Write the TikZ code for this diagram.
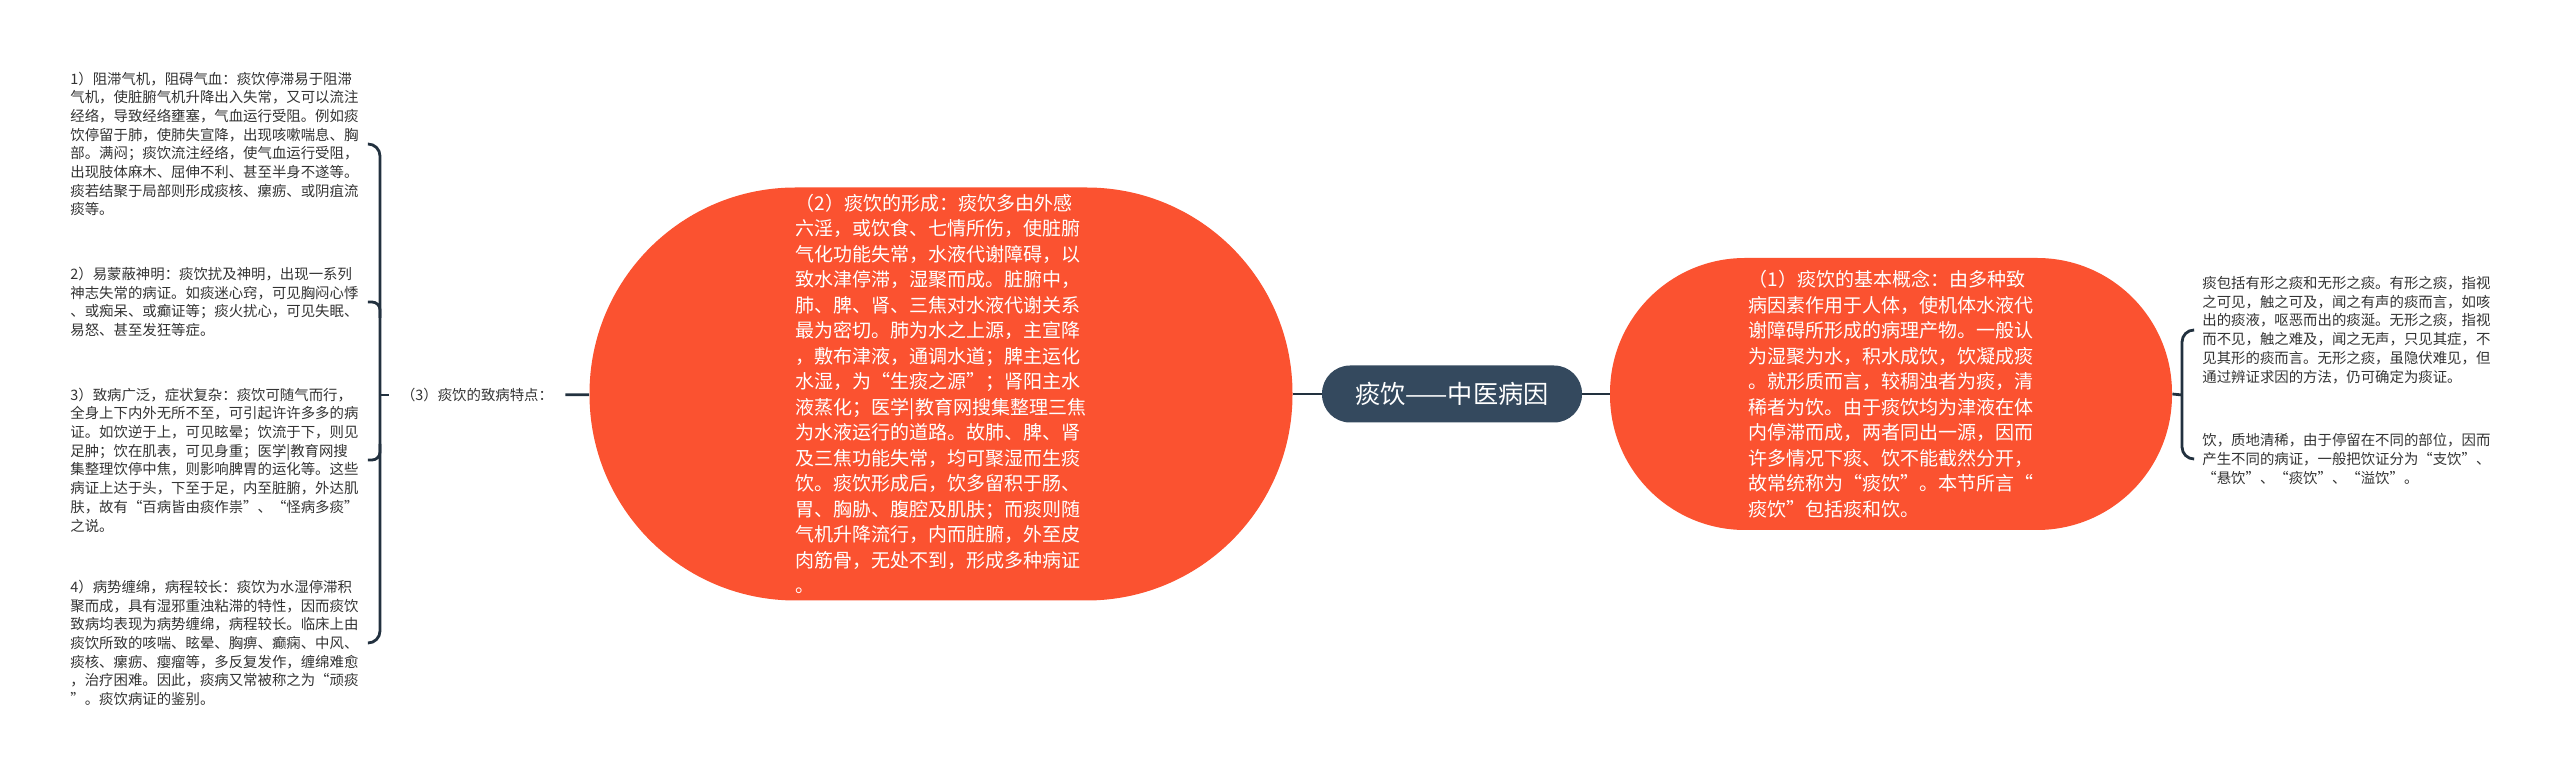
\documentclass[tikz,border=0pt]{standalone}
\usepackage{fontspec}
\setmainfont{Noto Sans CJK SC}
\usetikzlibrary{positioning}
\definecolor{topicred}{HTML}{FB5230}
\definecolor{rootblue}{HTML}{34495E}
\definecolor{linkblue}{HTML}{22313F}
\definecolor{notegray}{HTML}{333333}

\begin{document}
\begin{tikzpicture}[x=0.5pt,y=-0.5pt,
 link/.style={draw=linkblue,line width=1.4pt},
 root node/.style={fill=rootblue,text=white,rounded corners=14pt,minimum width=130pt,
   minimum height=28.5pt,inner sep=0pt,font=\fontsize{12.6}{15}\selectfont},
 topic node/.style={fill=topicred,text=white,align=left,inner sep=0pt,
   font=\fontsize{9.5}{12.75}\selectfont},
 note node/.style={text=notegray,align=left,inner sep=0pt,anchor=west,
   font=\fontsize{7.2}{9.35}\selectfont}]
  \useasboundingbox (0,0) rectangle (2560,779);

  % centre and the two big topics
  \node[root node] (C) at (1452,394) {痰饮——中医病因};
  \node[topic node,minimum width=351.5pt,minimum height=206.5pt,rounded corners=103pt]
   (L) at (941,394) {（2）痰饮的形成：痰饮多由外感\\六淫，或饮食、七情所伤，使脏腑\\气化功能失常，水液代谢障碍，以\\致水津停滞，湿聚而成。脏腑中，\\肺、脾、肾、三焦对水液代谢关系\\最为密切。肺为水之上源，主宣降\\，敷布津液，通调水道；脾主运化\\水湿，为“生痰之源”；肾阳主水\\液蒸化；医学|教育网搜集整理三焦\\为水液运行的道路。故肺、脾、肾\\及三焦功能失常，均可聚湿而生痰\\饮。痰饮形成后，饮多留积于肠、\\胃、胸胁、腹腔及肌肤；而痰则随\\气机升降流行，内而脏腑，外至皮\\肉筋骨，无处不到，形成多种病证\\。};
  \node[topic node,minimum width=281pt,minimum height=136pt,rounded corners=67.5pt]
   (R) at (1891,394) {（1）痰饮的基本概念：由多种致\\病因素作用于人体，使机体水液代\\谢障碍所形成的病理产物。一般认\\为湿聚为水，积水成饮，饮凝成痰\\。就形质而言，较稠浊者为痰，清\\稀者为饮。由于痰饮均为津液在体\\内停滞而成，两者同出一源，因而\\许多情况下痰、饮不能截然分开，\\故常统称为“痰饮”。本节所言“\\痰饮”包括痰和饮。};

  % left branch
  \node[note node,anchor=center,inner xsep=6pt] (lab) at (477,395) {（3）痰饮的致病特点：};
  \coordinate (ltrunk) at (380,395);
  \node[note node] (t1) at (70,144) {1）阻滞气机，阻碍气血：痰饮停滞易于阻滞\\气机，使脏腑气机升降出入失常，又可以流注\\经络，导致经络壅塞，气血运行受阻。例如痰\\饮停留于肺，使肺失宣降，出现咳嗽喘息、胸\\部。满闷；痰饮流注经络，使气血运行受阻，\\出现肢体麻木、屈伸不利、甚至半身不遂等。\\痰若结聚于局部则形成痰核、瘰疬、或阴疽流\\痰等。};
  \node[note node] (t2) at (70,302) {2）易蒙蔽神明：痰饮扰及神明，出现一系列\\神志失常的病证。如痰迷心窍，可见胸闷心悸\\、或痴呆、或癫证等；痰火扰心，可见失眠、\\易怒、甚至发狂等症。};
  \node[note node] (t3) at (70,460) {3）致病广泛，症状复杂：痰饮可随气而行，\\全身上下内外无所不至，可引起许许多多的病\\证。如饮逆于上，可见眩晕；饮流于下，则见\\足肿；饮在肌表，可见身重；医学|教育网搜\\集整理饮停中焦，则影响脾胃的运化等。这些\\病证上达于头，下至于足，内至脏腑，外达肌\\肤，故有“百病皆由痰作祟”、“怪病多痰”\\之说。};
  \node[note node] (t4) at (70,643) {4）病势缠绵，病程较长：痰饮为水湿停滞积\\聚而成，具有湿邪重浊粘滞的特性，因而痰饮\\致病均表现为病势缠绵，病程较长。临床上由\\痰饮所致的咳喘、眩晕、胸痹、癫痫、中风、\\痰核、瘰疬、瘿瘤等，多反复发作，缠绵难愈\\，治疗困难。因此，痰病又常被称之为“顽痰\\”。痰饮病证的鉴别。};

  % right branch
  \coordinate (rtrunk) at (2182,395);
  \node[note node] (r1) at (2202,330) {痰包括有形之痰和无形之痰。有形之痰，指视\\之可见，触之可及，闻之有声的痰而言，如咳\\出的痰液，呕恶而出的痰涎。无形之痰，指视\\而不见，触之难及，闻之无声，只见其症，不\\见其形的痰而言。无形之痰，虽隐伏难见，但\\通过辨证求因的方法，仍可确定为痰证。};
  \node[note node] (r2) at (2202,459) {饮，质地清稀，由于停留在不同的部位，因而\\产生不同的病证，一般把饮证分为“支饮”、\\“悬饮”、“痰饮”、“溢饮”。};

  % connectors
  \foreach \s/\t in {L/C, C/R, lab/L} {
    \path[link] (\s) -- (\t);}
  \path[link] (lab.west) -- (ltrunk);
  \path[link] (R.east) -- (rtrunk);
  \path[link,rounded corners=6pt]
   ([xshift=4.5pt]t1.east) -- (t1.east -| ltrunk) -- (t4.east -| ltrunk) -- ([xshift=4.5pt]t4.east);
  \path[link,rounded corners=4pt]
   ([xshift=4.5pt]t2.east) -- (t2.east -| ltrunk) -- ([yshift=-8pt]t2.east -| ltrunk);
  \path[link,rounded corners=4pt]
   ([xshift=4.5pt]t3.east) -- (t3.east -| ltrunk) -- ([yshift=8pt]t3.east -| ltrunk);
  \path[link,rounded corners=6pt]
   ([xshift=-4.5pt]r1.west) -- (r1.west -| rtrunk) -- (r2.west -| rtrunk) -- ([xshift=-4.5pt]r2.west);
\end{tikzpicture}
\end{document}
